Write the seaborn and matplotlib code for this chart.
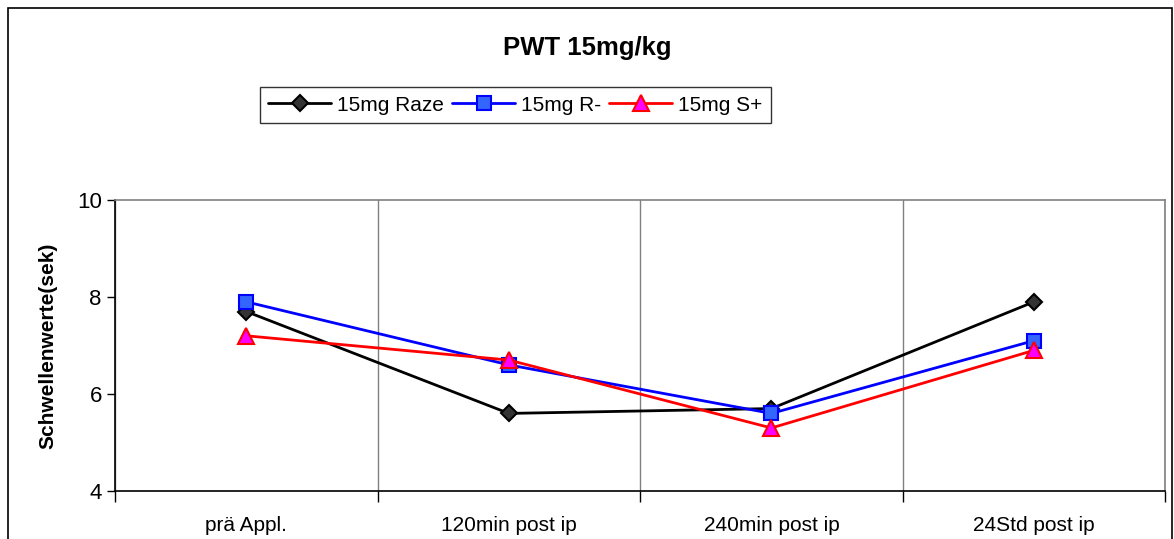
import matplotlib
matplotlib.use("Agg")
import matplotlib.pyplot as plt
import seaborn as sns
import pandas as pd
from matplotlib.patches import Rectangle

# data
zeitpunkte = ['prä Appl.', '120min post ip', '240min post ip', '24Std post ip']
raze = [7.7, 5.6, 5.7, 7.9]
r_minus = [7.9, 6.6, 5.6, 7.1]
s_plus = [7.2, 6.7, 5.3, 6.9]

sns.set_theme(style="white")
plt.rcParams['font.family'] = ['Liberation Sans', 'DejaVu Sans']
plt.rcParams['text.color'] = 'black'
plt.rcParams['xtick.color'] = 'black'
plt.rcParams['ytick.color'] = 'black'
plt.rcParams['axes.labelcolor'] = 'black'

df = pd.DataFrame({'pos': range(len(zeitpunkte)), 'Raze': raze, 'R': r_minus, 'S': s_plus})

fig = plt.figure(figsize=(11.74, 5.39), dpi=100)
ax = fig.add_axes([0.098, 0.089, 0.8945, 0.54])

styles = [
    ('Raze', '15mg Raze', 'black', 'D', '#333333', 'black', 8),
    ('R', '15mg R-', '#0000FF', 's', '#3366FF', '#0000FF', 10),
    ('S', '15mg S+', '#FF0000', '^', '#FF00FF', '#FF0000', 11),
]
for col, lab, c, m, fc, ec, ms in styles:
    sns.lineplot(data=df, x='pos', y=col, ax=ax, color=c, marker=m, markersize=ms,
                 markerfacecolor=fc, markeredgecolor=ec, markeredgewidth=1.5,
                 linewidth=2, label=lab)

ax.set_xlim(-0.5, len(zeitpunkte) - 0.5)
ax.set_ylim(4, 10)
ax.set_yticks([4, 6, 8, 10])
ax.set_xticks(range(len(zeitpunkte)))
ax.set_xticklabels(zeitpunkte, fontsize=15)
ax.set_xticks([i - 0.5 for i in range(len(zeitpunkte) + 1)], minor=True)
ax.tick_params(axis='x', which='major', length=0, pad=18)
ax.tick_params(axis='x', which='minor', length=8, width=1, color='black', direction='out', bottom=True)
ax.tick_params(axis='y', length=6, width=1, color='black', direction='out', left=True, labelsize=16)
ax.grid(True, axis='x', which='minor', color='#808080', linewidth=1)
ax.set_xlabel('')
ax.set_ylabel('Schwellenwerte(sek)', fontsize=15, fontweight='bold', labelpad=14)

for s in ['left', 'bottom']:
    ax.spines[s].set_color('black')
    ax.spines[s].set_linewidth(1.2)
for s in ['top', 'right']:
    ax.spines[s].set_color('#808080')
    ax.spines[s].set_linewidth(1.2)

ax.get_legend().remove()
handles, labels = ax.get_legend_handles_labels()
leg = fig.legend(handles, labels, loc='center', bbox_to_anchor=(0.439, 0.805), ncol=3,
                 fontsize=15, frameon=True, fancybox=False, handlelength=3,
                 columnspacing=0.4, handletextpad=0.3, borderpad=0.4)
leg.get_frame().set_edgecolor('black')
leg.get_frame().set_linewidth(1)

fig.text(0.5, 0.911, 'PWT 15mg/kg', ha='center', va='center', fontsize=18.5, fontweight='bold')

fig.patches.append(Rectangle((0.007, -0.1), 0.991, 1.085, transform=fig.transFigure,
                             fill=False, edgecolor='black', linewidth=1.2))

fig.savefig('out.png', dpi=100)
